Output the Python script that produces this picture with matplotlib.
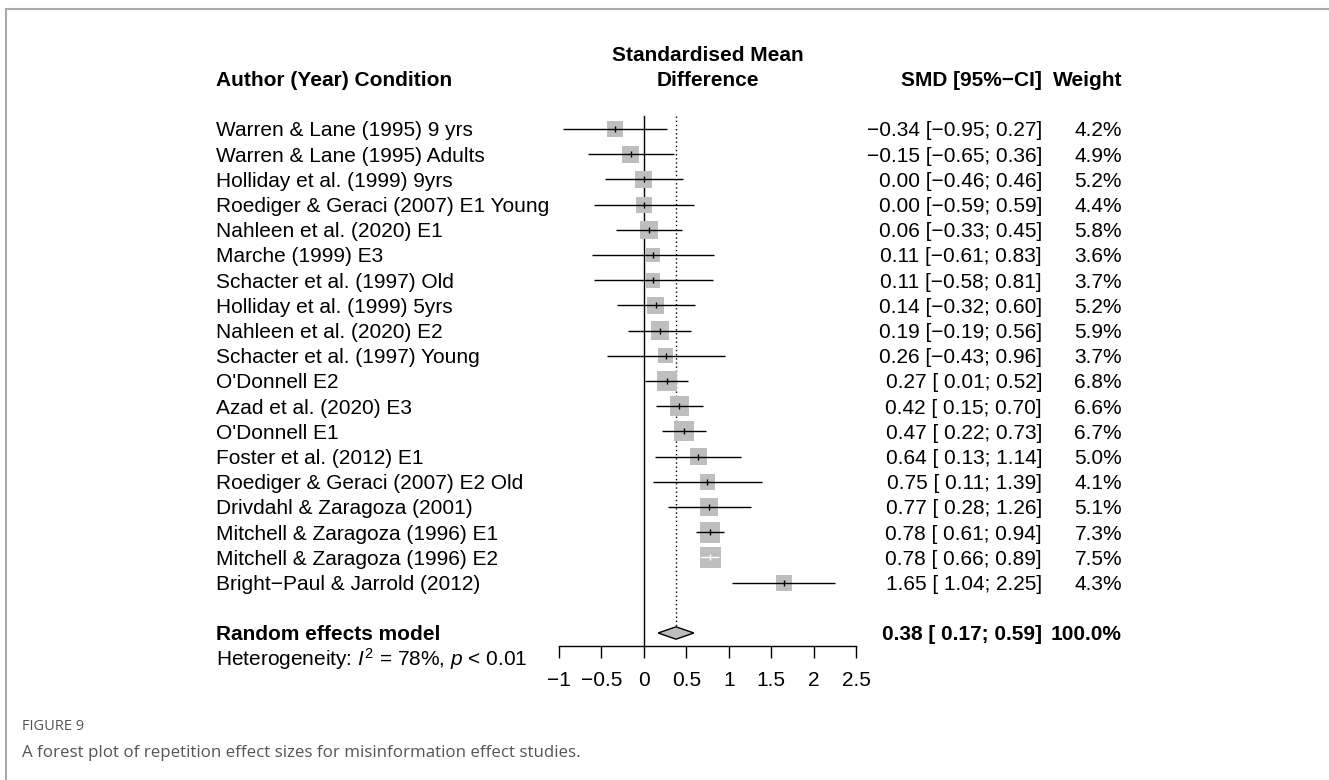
import numpy as np
import matplotlib
matplotlib.use("Agg")
import matplotlib.pyplot as plt
from matplotlib.lines import Line2D
from matplotlib.transforms import blended_transform_factory

plt.rcParams['font.family'] = ['Liberation Sans', 'DejaVu Sans']
plt.rcParams['mathtext.fontset'] = 'custom'
plt.rcParams['mathtext.rm'] = 'Liberation Sans'
plt.rcParams['mathtext.it'] = 'Liberation Sans:italic'
plt.rcParams['axes.unicode_minus'] = True

# donnees
studies = [
    "Warren & Lane (1995) 9 yrs",
    "Warren & Lane (1995) Adults",
    "Holliday et al. (1999) 9yrs",
    "Roediger & Geraci (2007) E1 Young",
    "Nahleen et al. (2020) E1",
    "Marche (1999) E3",
    "Schacter et al. (1997) Old",
    "Holliday et al. (1999) 5yrs",
    "Nahleen et al. (2020) E2",
    "Schacter et al. (1997) Young",
    "O'Donnell E2",
    "Azad et al. (2020) E3",
    "O'Donnell E1",
    "Foster et al. (2012) E1",
    "Roediger & Geraci (2007) E2 Old",
    "Drivdahl & Zaragoza (2001)",
    "Mitchell & Zaragoza (1996) E1",
    "Mitchell & Zaragoza (1996) E2",
    "Bright\u2212Paul & Jarrold (2012)",
]
smd = [-0.34, -0.15, 0.00, 0.00, 0.06, 0.11, 0.11, 0.14, 0.19, 0.26,
       0.27, 0.42, 0.47, 0.64, 0.75, 0.77, 0.78, 0.78, 1.65]
ci_low = [-0.95, -0.65, -0.46, -0.59, -0.33, -0.61, -0.58, -0.32, -0.19, -0.43,
          0.01, 0.15, 0.22, 0.13, 0.11, 0.28, 0.61, 0.66, 1.04]
ci_high = [0.27, 0.36, 0.46, 0.59, 0.45, 0.83, 0.81, 0.60, 0.56, 0.96,
           0.52, 0.70, 0.73, 1.14, 1.39, 1.26, 0.94, 0.89, 2.25]
weights = [4.2, 4.9, 5.2, 4.4, 5.8, 3.6, 3.7, 5.2, 5.9, 3.7,
           6.8, 6.6, 6.7, 5.0, 4.1, 5.1, 7.3, 7.5, 4.3]

pooled = 0.38
pooled_low = 0.17
pooled_high = 0.59
i2 = 78
xticks = [-1, -0.5, 0, 0.5, 1, 1.5, 2, 2.5]

# mise en page (pixels)
W, H = 1329, 780
ROW0 = 129.0
ROW = 25.2
X_LEFT, X_RIGHT = 558.7, 856.2
Y_TOP, Y_BOT = 40.0, 700.0
FS = 15


def minus(s):
    return s.replace('-', '\u2212')


fig = plt.figure(figsize=(W / 100, H / 100), dpi=100)
ax = fig.add_axes([X_LEFT / W, (H - Y_BOT) / H, (X_RIGHT - X_LEFT) / W, (Y_BOT - Y_TOP) / H])
ax.set_xlim(-1, 2.5)
ax.set_ylim((Y_BOT - ROW0) / ROW, (Y_TOP - ROW0) / ROW)
ax.patch.set_alpha(0)
for side in ['top', 'left', 'right']:
    ax.spines[side].set_visible(False)
n = len(studies)
summary_row = n + 1
ax.spines['bottom'].set_position(('data', summary_row + 0.5))
ax.spines['bottom'].set_bounds(-1, 2.5)
ax.spines['bottom'].set_linewidth(1.0)
ax.set_yticks([])
ax.set_xticks(xticks)
ax.set_xticklabels([minus(f"{t:g}") for t in xticks], fontsize=FS)
ax.tick_params(axis='x', direction='out', length=8.6, width=1.0, pad=9.5)

px_per_unit = (X_RIGHT - X_LEFT) / 3.5
rows = np.arange(n)

# lignes de reference
ax.plot([0, 0], [-0.5, summary_row + 0.5], color='black', lw=1.0, zorder=1)
dh = 0.245
ax.plot([pooled, pooled], [-0.5, summary_row - dh], color='black', lw=1.0,
        linestyle=(0, (1, 2.0)), zorder=1)

# carres et intervalles
side_px = 21 * np.sqrt(np.array(weights) / 7.5)
ax.scatter(smd, rows, s=(side_px * 0.72) ** 2, marker='s', color='#BEBEBE',
           edgecolors='none', zorder=2)
for i in range(n):
    half = side_px[i] / 2 / px_per_unit
    inside = ci_low[i] >= smd[i] - half and ci_high[i] <= smd[i] + half
    col = 'white' if inside else 'black'
    ax.plot([ci_low[i], ci_high[i]], [i, i], color=col, lw=1.0, zorder=3,
            solid_capstyle='butt')
    ax.plot(smd[i], i, marker='|', markersize=5, mew=1.0, color=col, zorder=4)

# losange du modele
ax.fill([pooled_low, pooled, pooled_high, pooled],
        [summary_row, summary_row - dh, summary_row, summary_row + dh],
        facecolor='#BEBEBE', edgecolor='black', lw=1.0, zorder=3)

# textes
tr = blended_transform_factory(fig.transFigure, ax.transData)
base = 7.5 / ROW
x_lab = 216 / W
x_smd = 1042 / W
x_w = 1122 / W
x_mid = (X_LEFT + X_RIGHT) / 2 / W

ax.text(x_lab, -2 + base, "Author (Year) Condition", transform=tr, fontsize=FS,
        fontweight='bold', ha='left', va='baseline')
ax.text(x_mid, -3 + base, "Standardised Mean", transform=tr, fontsize=FS,
        fontweight='bold', ha='center', va='baseline')
ax.text(x_mid, -2 + base, "Difference", transform=tr, fontsize=FS,
        fontweight='bold', ha='center', va='baseline')
ax.text(x_smd, -2 + base, "SMD [95%\u2212CI]", transform=tr, fontsize=FS,
        fontweight='bold', ha='right', va='baseline')
ax.text(x_w, -2 + base, "Weight", transform=tr, fontsize=FS,
        fontweight='bold', ha='right', va='baseline')

for i in range(n):
    ci_txt = minus(f"{smd[i]:.2f} [{ci_low[i]:5.2f}; {ci_high[i]:.2f}]")
    ax.text(x_lab, i + base, studies[i], transform=tr, fontsize=FS,
            ha='left', va='baseline')
    ax.text(x_smd, i + base, ci_txt, transform=tr, fontsize=FS,
            ha='right', va='baseline')
    ax.text(x_w, i + base, f"{weights[i]:.1f}%", transform=tr, fontsize=FS,
            ha='right', va='baseline')

ax.text(x_lab, summary_row + base, "Random effects model", transform=tr,
        fontsize=FS, fontweight='bold', ha='left', va='baseline')
ax.text(x_smd, summary_row + base,
        f"{pooled:.2f} [{pooled_low:5.2f}; {pooled_high:.2f}]", transform=tr,
        fontsize=FS, fontweight='bold', ha='right', va='baseline')
ax.text(x_w, summary_row + base, "100.0%", transform=tr, fontsize=FS,
        fontweight='bold', ha='right', va='baseline')
ax.text(x_lab, summary_row + 1 + base,
        f"Heterogeneity: $I^2$ = {i2}%, $p$ < 0.01", transform=tr,
        fontsize=FS, ha='left', va='baseline')

# cadre et legende de la figure
fig.add_artist(Line2D([6 / W, 6 / W], [0, 1 - 9 / H], color='#AAAAAA', lw=1.5))
fig.add_artist(Line2D([6 / W, 1], [1 - 9 / H, 1 - 9 / H], color='#AAAAAA', lw=1.5))
fig.text(22 / W, 1 - 727 / H, "FIGURE 9", fontsize=10.5, color='#555555',
         family=['Open Sans', 'DejaVu Sans'], va='center', ha='left')
fig.text(22 / W, 1 - 753 / H,
         "A forest plot of repetition effect sizes for misinformation effect studies.",
         fontsize=12.2, color='#555555', family=['Open Sans', 'DejaVu Sans'],
         va='center', ha='left')

fig.savefig("out.png", dpi=100)
